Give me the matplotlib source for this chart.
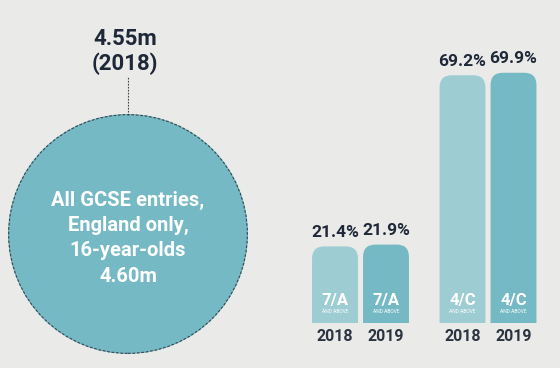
import matplotlib.pyplot as plt
from matplotlib.patches import Circle, FancyBboxPatch
import numpy as np

plt.rcParams['font.family'] = ['Roboto', 'DejaVu Sans']

# data
entries_2019 = 4.60   # millions, filled circle
entries_2018 = 4.55   # millions, dashed outline
circle_lines = ["All GCSE entries,", "England only,", "16-year-olds", "4.60m"]

grades = ["7/A", "7/A", "4/C", "4/C"]
years = ["2018", "2019", "2018", "2019"]
pct = [21.4, 21.9, 69.2, 69.9]
xpos = [0, 1, 2.5, 3.5]

BG = "#EAEBE8"
LIGHT = "#9DCCD3"
DARK = "#74B9C3"
TXT = "#1E2838"

fig = plt.figure(figsize=(5.6, 3.68), dpi=100, facecolor=BG)

# ---- circle ----
R = np.sqrt(entries_2019)
r18 = np.sqrt(entries_2018)
ax_c = fig.add_axes([8 / 560, 14 / 368, 240 / 560, 240 / 368])
ax_c.set_xlim(-R, R)
ax_c.set_ylim(-R, R)
ax_c.axis("off")
ax_c.add_patch(Circle((0, 0), R, facecolor=DARK, edgecolor="none", clip_on=False))
ax_c.add_patch(Circle((0, 0), r18, facecolor="none", edgecolor="#3a4550",
                      lw=0.8, ls=(0, (2.5, 1.5)), clip_on=False))
u = 2 * R / 240  # data units per pixel
ax_c.plot([0, 0], [r18, R + 37 * u], color="#3a4550", lw=0.8,
          ls=(0, (1.5, 1.2)), clip_on=False)
ax_c.text(-3 * u, R + 75 * u, "4.55m", ha="center", va="center", fontsize=16,
          fontweight="bold", color=TXT, clip_on=False)
ax_c.text(-3 * u, R + 50 * u, "(2018)", ha="center", va="center", fontsize=16,
          fontweight="bold", color=TXT, clip_on=False)
for i, line in enumerate(circle_lines):
    ax_c.text(0, (119 - 85 - i * 25.5) * u, line, ha="center", va="center",
              fontsize=14.5, fontweight="bold", color="white")

# ---- bars ----
ax = fig.add_axes([290 / 560, 45 / 368, 270 / 560, 323 / 368])
ax.set_facecolor(BG)
ax.set_xlim(-45 / 51, 225 / 51)
ax.set_ylim(0, 323 / 3.58)
ax.axis("off")
w = 0.9
aspect = 51 / 3.58
for i, (x, p) in enumerate(zip(xpos, pct)):
    col = LIGHT if years[i] == "2018" else DARK
    ax.add_patch(FancyBboxPatch((x - w / 2, -10), w, p + 10,
                                boxstyle="round,pad=0,rounding_size=0.24",
                                mutation_aspect=aspect, facecolor=col,
                                edgecolor="none"))
    ax.annotate(f"{p}%", (x, p), xytext=(0, 10), textcoords="offset points",
                ha="center", va="center", fontsize=12.5, fontweight="bold",
                color=TXT)
    ax.annotate(grades[i], (x, 0), xytext=(0, 16.5), textcoords="offset points",
                ha="center", va="center", fontsize=12, fontweight="bold",
                color="white")
    ax.annotate("AND ABOVE", (x, 0), xytext=(0, 8), textcoords="offset points",
                ha="center", va="center", fontsize=3.5, color="white")
    ax.annotate(years[i], (x, 0), xytext=(0, -10), textcoords="offset points",
                ha="center", va="center", fontsize=11.5, fontweight="bold",
                color="#2A3340", annotation_clip=False)

fig.savefig("out.png", dpi=100, facecolor=BG)
